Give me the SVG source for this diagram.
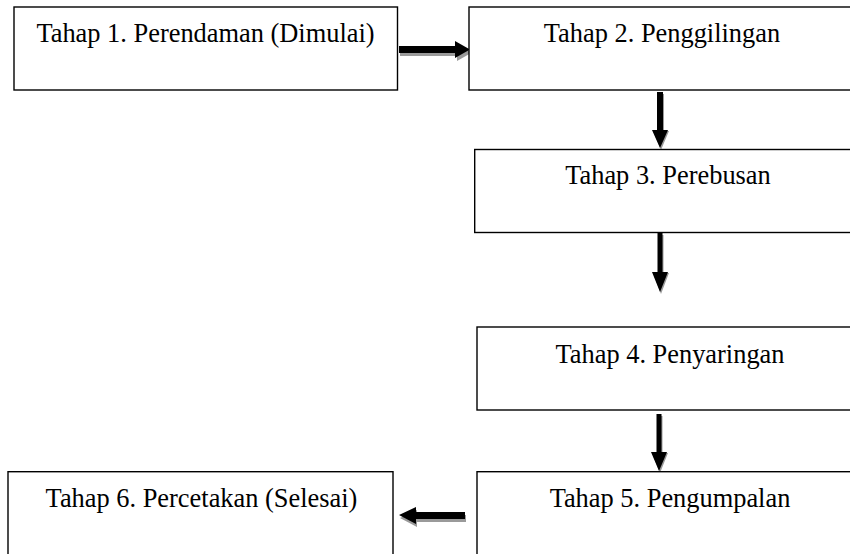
<svg xmlns="http://www.w3.org/2000/svg" width="850" height="554" viewBox="0 0 850 554">
<style>
.box{fill:#fff;stroke:#000;stroke-width:1.4}
.lbl{font-family:"Liberation Serif","Times New Roman",serif;font-size:26.4px;fill:#000;text-anchor:middle}
.arr{fill:#000}
.shd{fill:#9a9a9a}
</style>
<rect width="850" height="554" fill="#fff"/>
<g id="connectors">
  <g id="c1-2">
    <polygon class="shd" points="400,49 457,49 457,44 472,52.5 457,61 457,56 400,56"/>
    <polygon class="arr" points="399,46 455,46 455,41 470,49.5 455,58 455,53 399,53"/>
  </g>
  <g id="c2-3">
    <polygon class="shd" points="658,94 664,94 664,131 669,131 661,150 653,131 658,131"/>
    <polygon class="arr" points="657,92 663,92 663,130 668,130 660,148 652,130 657,130"/>
  </g>
  <g id="c3-4">
    <polygon class="shd" points="658.5,235 663.5,235 663.5,273 669,273 661,294 653,273 658.5,273"/>
    <polygon class="arr" points="657.5,233 662.5,233 662.5,272 668,272 660,292 652,272 657.5,272"/>
  </g>
  <g id="c4-5">
    <polygon class="shd" points="657.5,416 662.5,416 662.5,453 668,453 660,473 652,453 657.5,453"/>
    <polygon class="arr" points="656.5,414 661.5,414 661.5,452 667,452 659,471 651,452 656.5,452"/>
  </g>
  <g id="c5-6">
    <polygon class="shd" points="466,515 417,515 417,510 400,518 417,527 417,522 466,522"/>
    <polygon class="arr" points="465,512 416,512 416,507 399,515 416,524 416,519 465,519"/>
  </g>
</g>
<g id="node1">
  <rect class="box" x="14" y="7" width="383.5" height="83"/>
  <text class="lbl" x="205.5" y="42">Tahap 1. Perendaman (Dimulai)</text>
</g>
<g id="node2">
  <rect class="box" x="469" y="7" width="400" height="83"/>
  <text class="lbl" x="662" y="42">Tahap 2. Penggilingan</text>
</g>
<g id="node3">
  <rect class="box" x="474.7" y="149.5" width="400" height="83"/>
  <text class="lbl" x="668" y="184.3">Tahap 3. Perebusan</text>
</g>
<g id="node4">
  <rect class="box" x="477" y="327" width="400" height="83"/>
  <text class="lbl" x="670" y="363.3">Tahap 4. Penyaringan</text>
</g>
<g id="node5">
  <rect class="box" x="477" y="471.7" width="400" height="100"/>
  <text class="lbl" x="670" y="506.7">Tahap 5. Pengumpalan</text>
</g>
<g id="node6">
  <rect class="box" x="8" y="471.7" width="385" height="100"/>
  <text class="lbl" x="201.5" y="506.7">Tahap 6. Percetakan (Selesai)</text>
</g>
</svg>
